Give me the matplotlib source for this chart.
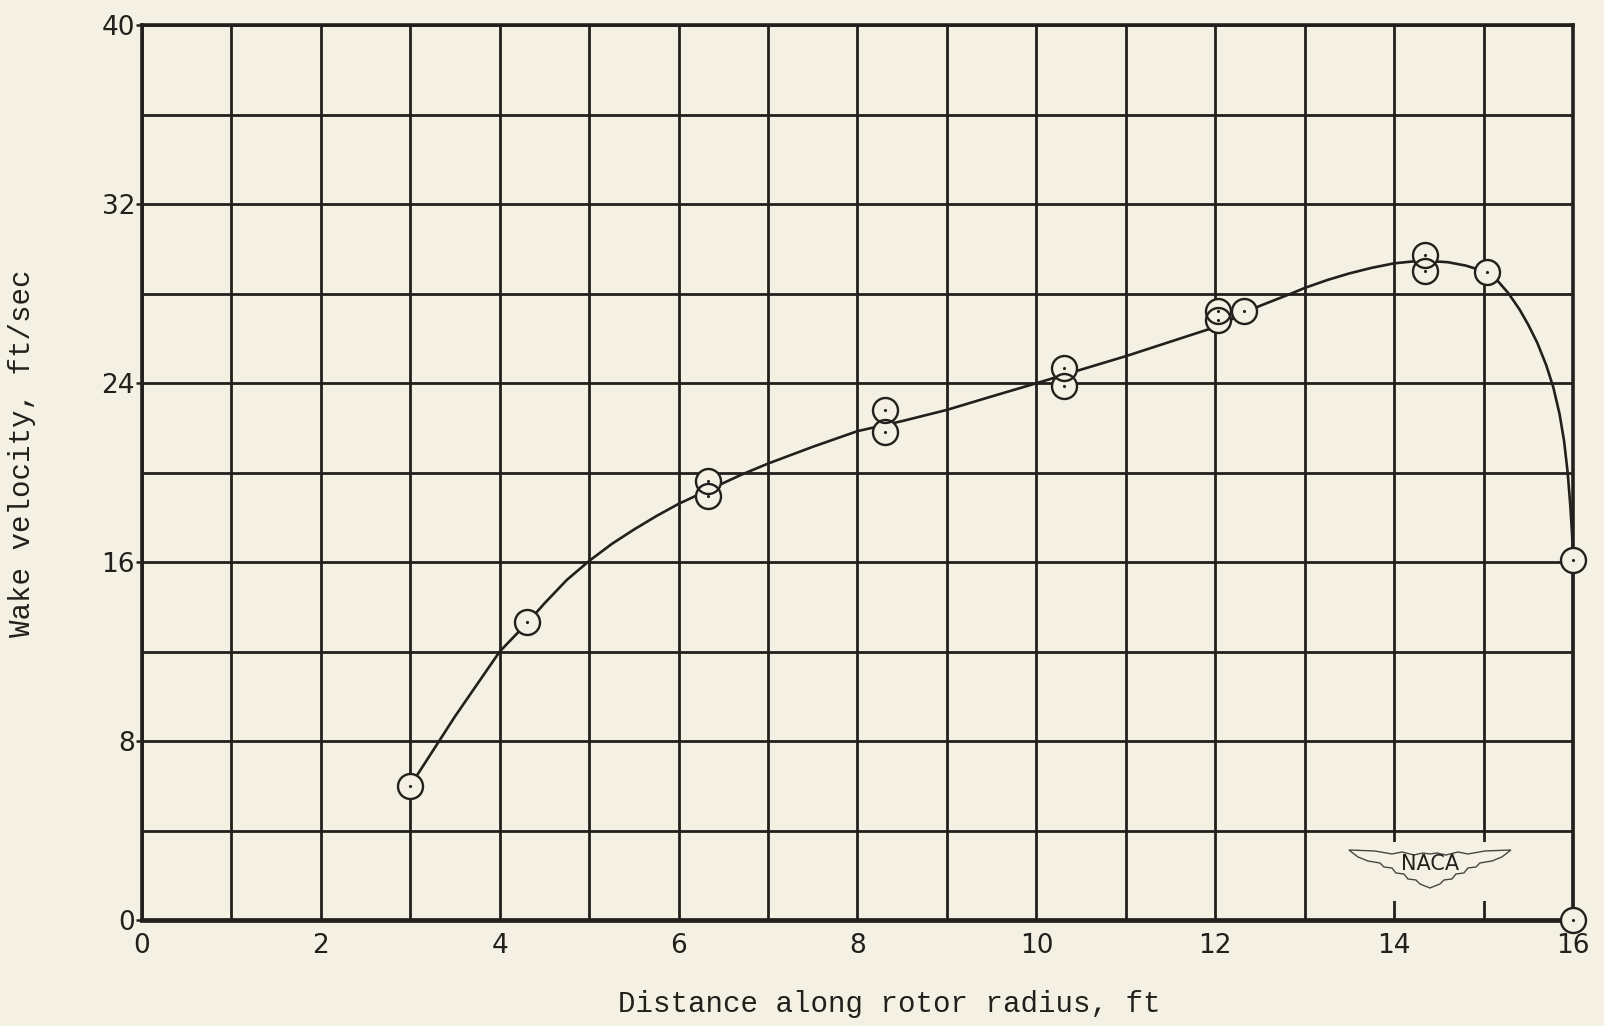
import matplotlib
matplotlib.use("Agg")
import matplotlib.pyplot as plt
from matplotlib.patches import Polygon, Rectangle
from matplotlib.ticker import MultipleLocator
from matplotlib.transforms import ScaledTranslation

# measured points (ft, ft/sec)
radius = [3.0, 4.3, 6.33, 6.33, 8.31, 8.31, 10.31, 10.31, 12.03, 12.03,
          12.32, 14.34, 14.34, 15.04, 16.0, 16.0]
velocity = [6.0, 13.3, 19.6, 18.95, 22.8, 21.8, 24.65, 23.85, 27.2, 26.8,
            27.2, 29.7, 29.0, 28.95, 16.1, 0.0]

# faired curve
curve_r = [3.0, 3.5, 4.0, 4.3, 4.5, 4.75, 5.0, 5.25, 5.5, 5.75, 6.0, 6.35,
           6.7, 7.0, 7.5, 8.0, 8.5, 9.0, 9.5, 10.05, 10.5, 11.0, 11.5, 12.0,
           12.5, 12.85, 13.0, 13.25, 13.5, 13.75, 14.0, 14.2, 14.4, 14.6,
           14.8, 15.04, 15.15, 15.28, 15.4, 15.5, 15.6, 15.7, 15.78, 15.85,
           15.9, 15.94, 15.97, 15.99, 16.0, 16.0]
curve_v = [6.0, 9.1, 12.0, 13.25, 14.15, 15.2, 16.05, 16.8, 17.45, 18.05,
           18.6, 19.25, 19.9, 20.4, 21.15, 21.85, 22.3, 22.8, 23.4, 24.05,
           24.6, 25.2, 25.85, 26.5, 27.45, 28.0, 28.25, 28.6, 28.9, 29.15,
           29.35, 29.43, 29.45, 29.4, 29.25, 28.95, 28.6, 28.0, 27.3, 26.6,
           25.8, 24.8, 23.8, 22.6, 21.4, 20.0, 18.5, 17.2, 16.1, 0.0]

x_ticks = [0, 2, 4, 6, 8, 10, 12, 14, 16]
y_ticks = [0, 8, 16, 24, 32, 40]

PAPER = "#f4f1e4"
INK = "#231f1c"

fig = plt.figure(figsize=(16.04, 10.26), dpi=100, facecolor=PAPER)
ax = fig.add_axes([0.0885, 0.1033, 0.8922, 0.8723])
ax.set_facecolor(PAPER)
ax.set_xlim(0, 16)
ax.set_ylim(0, 40)

ax.xaxis.set_minor_locator(MultipleLocator(1))
ax.yaxis.set_minor_locator(MultipleLocator(4))
ax.set_xticks(x_ticks)
ax.set_yticks(y_ticks)
ax.set_xticklabels([str(t) for t in x_ticks])
ax.set_yticklabels([str(t) for t in y_ticks])
ax.grid(which="both", color=INK, lw=2.0, zorder=1)
ax.set_axisbelow(True)

ax.tick_params(axis="x", which="both", length=0, pad=9,
               labelsize=19, labelcolor=INK)
ax.tick_params(axis="y", which="major", length=4, width=1.8, pad=1,
               labelsize=19, labelcolor=INK, color=INK)
ax.tick_params(axis="y", which="minor", length=0)
for s in ax.spines.values():
    s.set_color(INK)
    s.set_linewidth(2.6)
ax.spines["bottom"].set_linewidth(3.4)

ax.plot(curve_r, curve_v, color=INK, lw=1.9, zorder=2,
        solid_joinstyle="round", clip_on=False)

# circles hide lines under them but still show each other's outlines
ax.plot(radius, velocity, "o", ms=18, mfc=PAPER, mec=PAPER, mew=0,
        zorder=3, clip_on=False)
ax.plot(radius, velocity, "o", ms=18, mfc="none", mec=INK, mew=1.7,
        zorder=4, clip_on=False)
ax.plot(radius, velocity, ".", ms=2.5, color=INK, zorder=5, clip_on=False)

# NACA wings logo
ax.add_patch(Rectangle((13.55, 0.85), 1.7, 2.65, facecolor=PAPER,
                       edgecolor="none", zorder=1.5))
trans = fig.dpi_scale_trans + ScaledTranslation(14.4, 2.37, ax.transData)
half = [(-0.81, 0.17), (-0.55, 0.16), (-0.38, 0.13), (-0.28, 0.15),
        (-0.16, 0.12), (-0.07, 0.14), (0.0, 0.13)]
lower = [(-0.72, 0.10), (-0.62, 0.06), (-0.50, 0.04), (-0.46, 0.0),
         (-0.38, -0.01), (-0.34, -0.06), (-0.26, -0.07), (-0.22, -0.12),
         (-0.14, -0.13), (-0.10, -0.17), (0.0, -0.21)]
wing = (half + [(-x, y) for x, y in reversed(half[:-1])]
        + [(-x, y) for x, y in lower] + list(reversed(lower))[1:])
ax.add_patch(Polygon(wing, closed=True, transform=trans, facecolor="none",
                     edgecolor="#4a4540", lw=1.0, zorder=2))
ax.text(14.4, 2.5, "NACA", ha="center", va="center", fontsize=15,
        family="DejaVu Sans", color=INK, zorder=3)

fig.text(889 / 1604, 1 - 1004 / 1026, "Distance along rotor radius, ft",
         ha="center", va="center", fontsize=21, family="Liberation Mono",
         color=INK)
fig.text(22 / 1604, 1 - 453 / 1026, "Wake velocity, ft/sec", rotation=90,
         ha="center", va="center", fontsize=21, family="Liberation Mono",
         color=INK)

fig.savefig("out.png", dpi=100, facecolor=PAPER)
